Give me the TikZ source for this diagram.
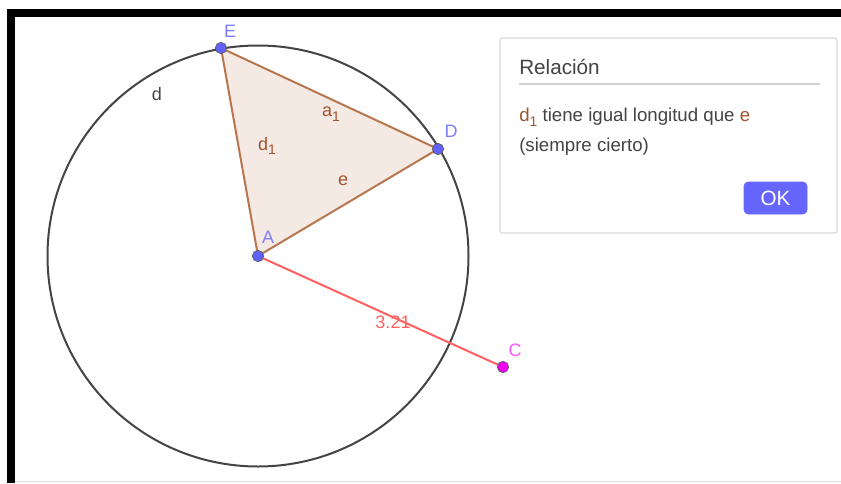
\documentclass[tikz,border=0pt]{standalone}
\usepackage{fontspec}
\setmainfont{Liberation Sans}

\definecolor{ptblue}{HTML}{6161FF}
\definecolor{lblblue}{HTML}{7D7DFF}
\definecolor{edgebrown}{HTML}{B8764F}
\definecolor{lblbrown}{HTML}{9C5530}
\definecolor{fillbrown}{HTML}{F4E9E3}
\definecolor{segred}{HTML}{FF6060}
\definecolor{ptmag}{HTML}{F000F0}
\definecolor{lblmag}{HTML}{FF55FF}
\definecolor{txtgray}{HTML}{444444}
\definecolor{okblue}{HTML}{6666FF}

\newcommand{\gsub}[1]{\raisebox{-0.5ex}{\fontsize{10.5}{11}\selectfont #1}}

\begin{document}
\begin{tikzpicture}[x=0.75pt,y=0.75pt,
  gpoint/.style={circle, draw=black!65, line width=0.5pt, inner sep=0pt, minimum size=8.5pt},
  glabel/.style={inner sep=0pt, font=\fontsize{13.5}{15}\selectfont},
  dlgtext/.style={anchor=west, inner sep=0pt, text=txtgray, font=\fontsize{14}{16}\selectfont}]
  \useasboundingbox (0,0) rectangle (841,483);

  % frame
  \fill[black] (7,466) rectangle (841,474);
  \fill[black] (7,0) rectangle (15,474);
  \draw[black!12, line width=1pt] (15,1.5) -- (841,1.5);

  \coordinate (A) at (258,227);
  \coordinate (E) at (221,435);
  \coordinate (D) at (438,334);
  \coordinate (C) at (503,116);

  \draw[txtgray, line width=1.5pt] (A) circle (210.5);

  \fill[fillbrown] (A) -- (E) -- (D) -- cycle;
  \draw[edgebrown, line width=1.5pt] (A) -- (E);
  \draw[edgebrown, line width=1.5pt] (E) -- (D);
  \draw[edgebrown, line width=1.5pt] (D) -- (A);

  \draw[segred, line width=1.5pt] (A) -- (C);

  \node[gpoint, fill=ptblue] (pA) at (A) {};
  \node[gpoint, fill=ptblue] (pE) at (E) {};
  \node[gpoint, fill=ptblue] (pD) at (D) {};
  \node[gpoint, fill=ptmag] (pC) at (C) {};

  \node[glabel, text=lblblue] (labE) at (230,452) {E};
  \node[glabel, text=lblblue] (labD) at (451,352) {D};
  \node[glabel, text=lblblue] (labA) at (268,246) {A};
  \node[glabel, text=lblmag] (labC) at (515,133) {C};
  \node[glabel, text=txtgray] (labd) at (157,389) {d};
  \node[glabel, text=lblbrown] (laba) at (331,369) {a\gsub{1}};
  \node[glabel, text=lblbrown] (labdd) at (267,337) {d\gsub{1}};
  \node[glabel, text=lblbrown] (labe) at (343,302) {e};
  \node[glabel, text=segred] (labAC) at (393,161) {3.21};

  % dialog
  \draw[black!15, fill=white, line width=0.8pt, rounded corners=1.5pt] (500,250) rectangle (837,445);
  \node[dlgtext, font=\fontsize{15.5}{17}\selectfont] (rel) at (519,416) {Relación};
  \draw[black!18, line width=0.8pt] (519,399) -- (820,399);
  \node[dlgtext] (msg1) at (519,366) {{\color{lblbrown}d\gsub{1}} tiene igual longitud que {\color{lblbrown}e}};
  \node[dlgtext] (msg2) at (519,336) {(siempre cierto)};
  \draw[okblue, fill=okblue, rounded corners=3pt] (744,269) rectangle (807,301);
  \node[glabel, text=white, font=\fontsize{15.5}{17}\selectfont] (ok) at (775.5,285) {OK};

\end{tikzpicture}
\end{document}
